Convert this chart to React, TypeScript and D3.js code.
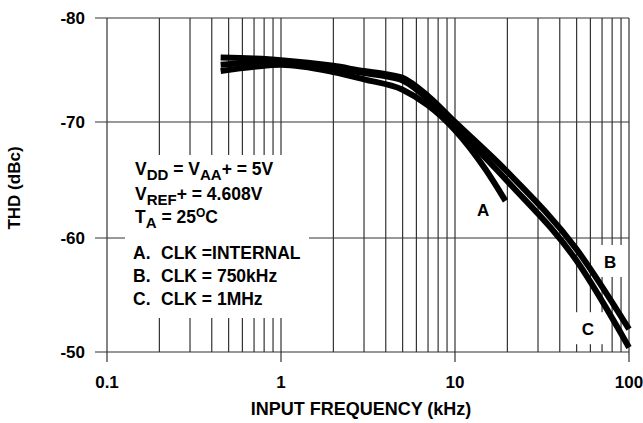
import React from "react";
import * as d3 from "d3";

const W = 643, H = 423;

// axis ticks
const xTicks = [0.1, 1, 10, 100];
const xTickLabels = ["0.1", "1", "10", "100"];
const yTicks = [-80, -70, -60, -50];
const yTickLabels = ["-80", "-70", "-60", "-50"];

// THD curves (kHz, dBc)
const freqA = [0.45, 0.7, 1, 2, 3, 5, 7, 10, 15, 19.5];
const thdA = [-74.9, -75.3, -75.5, -74.8, -74.1, -73.1, -71.6, -69.3, -65.9, -63.2];
const freqB = [0.45, 0.7, 1, 2, 3, 4, 5, 7, 10, 20, 50, 100];
const thdB = [-76.2, -76.1, -75.95, -75.4, -74.9, -74.6, -74.25, -72.5, -70.0, -65.7, -59.0, -52.0];
const freqC = [0.45, 0.7, 1, 2, 3, 4, 5, 7, 10, 20, 50, 100];
const thdC = [-75.5, -75.7, -75.8, -75.2, -74.7, -74.4, -74.0, -72.2, -69.6, -64.9, -58.0, -50.4];

// curve labels (kHz, dBc)
const curveLabels = [
  { name: "A", f: 14.5, db: -62.4, box: false },
  { name: "B", f: 78, db: -57.9, box: true },
  { name: "C", f: 58, db: -52.0, box: true },
];

const FONT = "'Liberation Sans', Arial, Helvetica, sans-serif";
const GRID = "#333";

export default function App() {
  const x = d3.scaleLog().domain([0.1, 100]).range([107, 629]);
  const y = d3.scaleLinear().domain(yTicks).range([18, 122, 238, 352]);

  const gridF: number[] = [];
  [0.1, 1, 10].forEach(d => d3.range(1, 10).forEach(k => gridF.push(+(k * d).toFixed(3))));
  gridF.push(100);

  const line = d3.line<[number, number]>().x(d => x(d[0])).y(d => y(d[1])).curve(d3.curveMonotoneX);
  const series = [
    freqA.map((f, i) => [f, thdA[i]] as [number, number]),
    freqB.map((f, i) => [f, thdB[i]] as [number, number]),
    freqC.map((f, i) => [f, thdC[i]] as [number, number]),
  ];

  const x0 = x(0.1), x1 = x(100), yTop = y(-80), yBot = y(-50);

  return (
    <svg width={W} height={H} viewBox={`0 0 ${W} ${H}`} style={{ position: "absolute", left: 0, top: 0, background: "#fff" }} fontFamily={FONT} fontWeight="bold">
      <rect width={W} height={H} fill="#fff" />
      {/* vertical grid */}
      {gridF.map((f, i) => {
        const major = xTicks.includes(f);
        return <line key={i} x1={x(f)} x2={x(f)} y1={yTop} y2={major ? yBot + 10 : yBot} stroke={GRID} strokeWidth={1.2} />;
      })}
      {/* horizontal grid */}
      {yTicks.map((t, i) => <line key={i} x1={x0 - 12} x2={x1} y1={y(t)} y2={y(t)} stroke={GRID} strokeWidth={1.2} />)}

      {/* legend box masks the grid */}
      <rect x={125} y={155} width={184} height={163} fill="#fff" />
      {curveLabels.filter(c => c.box).map(c => (
        <rect key={c.name} x={x(c.f) - 15} y={y(c.db) - 17} width={31} height={32} fill="#fff" />
      ))}

      {/* curves */}
      {series.map((s, i) => <path key={i} d={line(s) || ""} fill="none" stroke="#000" strokeWidth={6} strokeLinecap="butt" />)}

      {curveLabels.map(c => (
        <text key={c.name} x={x(c.f)} y={y(c.db) + 6} textAnchor="middle" fontSize={17}>{c.name}</text>
      ))}

      {/* tick labels */}
      {yTicks.map((t, i) => <text key={i} x={85} y={y(t) + 6} textAnchor="end" fontSize={17}>{yTickLabels[i]}</text>)}
      {xTicks.map((t, i) => <text key={i} x={x(t)} y={388} textAnchor="middle" fontSize={17}>{xTickLabels[i]}</text>)}

      {/* axis titles */}
      <text x={361} y={415} textAnchor="middle" fontSize={18}>INPUT FREQUENCY (kHz)</text>
      <text transform="translate(20 188) rotate(-90)" textAnchor="middle" fontSize={17}>THD (dBc)</text>

      {/* conditions */}
      <g fontSize={17.5}>
        <text x={135} y={175}>V<tspan dy={5} fontSize={15}>DD</tspan><tspan dy={-5}> = V</tspan><tspan dy={5} fontSize={15}>AA</tspan><tspan dy={-5}>+ = 5V</tspan></text>
        <text x={135} y={200}>V<tspan dy={5} fontSize={15}>REF</tspan><tspan dy={-5}>+ = 4.608V</tspan></text>
        <text x={135} y={223}>T<tspan dy={5} fontSize={15}>A</tspan><tspan dy={-5}> = 25</tspan><tspan dy={-6} fontSize={12}>O</tspan><tspan dy={6}>C</tspan></text>
        <text x={133} y={259}>A.<tspan x={161}>CLK =INTERNAL</tspan></text>
        <text x={133} y={282}>B.<tspan x={161}>CLK = 750kHz</tspan></text>
        <text x={133} y={305}>C.<tspan x={161}>CLK = 1MHz</tspan></text>
      </g>
    </svg>
  );
}
